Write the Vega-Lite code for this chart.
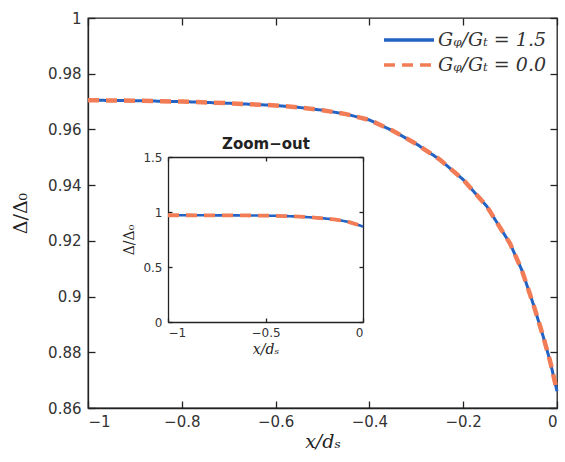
{
  "$schema": "https://vega.github.io/schema/vega-lite/v6.json",
  "width": 469,
  "height": 390,
  "autosize": {"type": "none"},
  "padding": {"left": 88, "top": 18, "right": 8, "bottom": 54},
  "background": "white",
  "datasets": {
    "curve": [
      {"s": "Gᵩ/Gₜ = 1.5", "x": -1.0, "y": 0.9705},
      {"s": "Gᵩ/Gₜ = 1.5", "x": -0.9, "y": 0.9703},
      {"s": "Gᵩ/Gₜ = 1.5", "x": -0.8, "y": 0.9700},
      {"s": "Gᵩ/Gₜ = 1.5", "x": -0.7, "y": 0.9694},
      {"s": "Gᵩ/Gₜ = 1.5", "x": -0.6, "y": 0.9686},
      {"s": "Gᵩ/Gₜ = 1.5", "x": -0.55, "y": 0.9679},
      {"s": "Gᵩ/Gₜ = 1.5", "x": -0.5, "y": 0.9669},
      {"s": "Gᵩ/Gₜ = 1.5", "x": -0.45, "y": 0.9655},
      {"s": "Gᵩ/Gₜ = 1.5", "x": -0.4, "y": 0.9634},
      {"s": "Gᵩ/Gₜ = 1.5", "x": -0.35, "y": 0.9595},
      {"s": "Gᵩ/Gₜ = 1.5", "x": -0.3, "y": 0.9548},
      {"s": "Gᵩ/Gₜ = 1.5", "x": -0.25, "y": 0.9492},
      {"s": "Gᵩ/Gₜ = 1.5", "x": -0.2, "y": 0.9420},
      {"s": "Gᵩ/Gₜ = 1.5", "x": -0.15, "y": 0.9325},
      {"s": "Gᵩ/Gₜ = 1.5", "x": -0.1, "y": 0.9190},
      {"s": "Gᵩ/Gₜ = 1.5", "x": -0.075, "y": 0.9095},
      {"s": "Gᵩ/Gₜ = 1.5", "x": -0.05, "y": 0.8970},
      {"s": "Gᵩ/Gₜ = 1.5", "x": -0.03, "y": 0.8860},
      {"s": "Gᵩ/Gₜ = 1.5", "x": -0.015, "y": 0.8770},
      {"s": "Gᵩ/Gₜ = 1.5", "x": 0.0, "y": 0.8660},
      {"s": "Gᵩ/Gₜ = 0.0", "x": -1.0, "y": 0.9705},
      {"s": "Gᵩ/Gₜ = 0.0", "x": -0.9, "y": 0.9703},
      {"s": "Gᵩ/Gₜ = 0.0", "x": -0.8, "y": 0.9700},
      {"s": "Gᵩ/Gₜ = 0.0", "x": -0.7, "y": 0.9694},
      {"s": "Gᵩ/Gₜ = 0.0", "x": -0.6, "y": 0.9686},
      {"s": "Gᵩ/Gₜ = 0.0", "x": -0.55, "y": 0.9679},
      {"s": "Gᵩ/Gₜ = 0.0", "x": -0.5, "y": 0.9669},
      {"s": "Gᵩ/Gₜ = 0.0", "x": -0.45, "y": 0.9655},
      {"s": "Gᵩ/Gₜ = 0.0", "x": -0.4, "y": 0.9634},
      {"s": "Gᵩ/Gₜ = 0.0", "x": -0.35, "y": 0.9595},
      {"s": "Gᵩ/Gₜ = 0.0", "x": -0.3, "y": 0.9548},
      {"s": "Gᵩ/Gₜ = 0.0", "x": -0.25, "y": 0.9492},
      {"s": "Gᵩ/Gₜ = 0.0", "x": -0.2, "y": 0.9420},
      {"s": "Gᵩ/Gₜ = 0.0", "x": -0.15, "y": 0.9325},
      {"s": "Gᵩ/Gₜ = 0.0", "x": -0.1, "y": 0.9190},
      {"s": "Gᵩ/Gₜ = 0.0", "x": -0.075, "y": 0.9095},
      {"s": "Gᵩ/Gₜ = 0.0", "x": -0.05, "y": 0.8970},
      {"s": "Gᵩ/Gₜ = 0.0", "x": -0.03, "y": 0.8860},
      {"s": "Gᵩ/Gₜ = 0.0", "x": -0.015, "y": 0.8770},
      {"s": "Gᵩ/Gₜ = 0.0", "x": 0.0, "y": 0.8660}
    ]
  },
  "config": {
    "view": {"stroke": "#222", "strokeWidth": 1.3},
    "axis": {
      "grid": false,
      "domainColor": "#222",
      "domainWidth": 1.3,
      "tickColor": "#222",
      "tickSize": 7,
      "tickWidth": 1.3,
      "labelFont": "DejaVu Sans",
      "labelFontSize": 15,
      "labelColor": "#333",
      "titleFont": "DejaVu Serif",
      "titleFontWeight": "normal",
      "titleColor": "#222"
    },
    "legend": {
      "orient": "top-right",
      "offset": 10,
      "fillColor": "white",
      "padding": 0,
      "symbolType": "M-1,0H4",
      "symbolSize": 400,
      "symbolStrokeWidth": 3.5,
      "labelFont": "DejaVu Serif",
      "labelFontStyle": "italic",
      "labelFontSize": 19,
      "labelColor": "#333",
      "rowPadding": 3,
      "labelOffset": 32
    }
  },
  "layer": [
    {
      "data": {"name": "curve"},
      "transform": [{"filter": "datum.s == 'Gᵩ/Gₜ = 1.5'"}],
      "mark": {"type": "line", "strokeWidth": 3},
      "encoding": {
        "x": {"field": "x", "type": "quantitative", "scale": {"domain": [-1, 0], "nice": false},
          "axis": {"orient": "bottom", "ticks": false, "values": [-1, -0.8, -0.6, -0.4, -0.2, 0], "format": ".1~f", "labelPadding": 6, "title": "x/dₛ", "titleFontStyle": "italic", "titleFontSize": 19, "titlePadding": 3}},
        "y": {"field": "y", "type": "quantitative", "scale": {"domain": [0.86, 1], "nice": false, "zero": false},
          "axis": {"orient": "left", "ticks": false, "values": [0.86, 0.88, 0.9, 0.92, 0.94, 0.96, 0.98, 1], "format": ".2~f", "labelPadding": 7, "title": "Δ/Δ₀", "titleFontSize": 19, "titlePadding": 17}},
        "color": {"field": "s", "type": "nominal", "scale": {"domain": ["Gᵩ/Gₜ = 1.5", "Gᵩ/Gₜ = 0.0"], "range": ["#2463c4", "#f27c55"]}, "legend": {"title": null}},
        "strokeDash": {"field": "s", "type": "nominal", "scale": {"domain": ["Gᵩ/Gₜ = 1.5", "Gᵩ/Gₜ = 0.0"], "range": [[1, 0], [11, 7]]}, "legend": {"title": null}}
      }
    },
    {
      "data": {"name": "curve"},
      "transform": [{"filter": "datum.s == 'Gᵩ/Gₜ = 0.0'"}],
      "mark": {"type": "line", "strokeWidth": 4.5},
      "encoding": {
        "x": {"field": "x", "type": "quantitative", "scale": {"domain": [-1, 0], "nice": false}, "axis": null},
        "y": {"field": "y", "type": "quantitative", "scale": {"domain": [0.86, 1], "nice": false, "zero": false}, "axis": null},
        "color": {"field": "s", "type": "nominal", "scale": {"domain": ["Gᵩ/Gₜ = 1.5", "Gᵩ/Gₜ = 0.0"], "range": ["#2463c4", "#f27c55"]}, "legend": {"title": null}},
        "strokeDash": {"field": "s", "type": "nominal", "scale": {"domain": ["Gᵩ/Gₜ = 1.5", "Gᵩ/Gₜ = 0.0"], "range": [[1, 0], [11, 7]]}, "legend": {"title": null}}
      }
    },
    {
      "data": {"name": "curve"},
      "transform": [{"filter": "datum.s == 'Gᵩ/Gₜ = 0.0'"}],
      "mark": {"type": "line", "opacity": 0},
      "encoding": {
        "x": {"field": "x", "type": "quantitative", "scale": {"domain": [-1, 0], "nice": false},
          "axis": {"orient": "top", "offset": -390, "domain": false, "values": [-1, -0.8, -0.6, -0.4, -0.2, 0], "labels": false, "title": null}},
        "y": {"field": "y", "type": "quantitative", "scale": {"domain": [0.86, 1], "nice": false, "zero": false},
          "axis": {"orient": "right", "offset": -469, "domain": false, "values": [0.86, 0.88, 0.9, 0.92, 0.94, 0.96, 0.98, 1], "labels": false, "title": null}}
      }
    },
    {
      "data": {"name": "curve"},
      "transform": [{"filter": "datum.s == 'Gᵩ/Gₜ = 0.0'"}],
      "mark": {"type": "line", "opacity": 0},
      "encoding": {
        "x": {"field": "x", "type": "quantitative", "scale": {"domain": [-1, 0], "nice": false},
          "axis": {"orient": "bottom", "offset": -390, "domain": false, "values": [-1, -0.8, -0.6, -0.4, -0.2, 0], "labels": false, "title": null}},
        "y": {"field": "y", "type": "quantitative", "scale": {"domain": [0.86, 1], "nice": false, "zero": false},
          "axis": {"orient": "left", "offset": -469, "domain": false, "values": [0.86, 0.88, 0.9, 0.92, 0.94, 0.96, 0.98, 1], "labels": false, "title": null}}
      }
    },
    {
      "data": {"name": "curve"},
      "transform": [{"filter": "datum.s == 'Gᵩ/Gₜ = 1.5'"}],
      "mark": {"type": "line", "strokeWidth": 2.6},
      "encoding": {
        "x": {"field": "x", "type": "quantitative", "scale": {"domain": [-1, 0], "nice": false, "range": [80, 275]},
          "axis": {"orient": "bottom", "offset": -86, "ticks": false, "values": [-1, -0.5, 0], "format": ".1~f", "labelFontSize": 12, "labelPadding": 5, "title": "x/dₛ", "titleFontStyle": "italic", "titleFontSize": 14, "titlePadding": 4}},
        "y": {"field": "y", "type": "quantitative", "scale": {"domain": [0, 1.5], "nice": false, "zero": false, "range": [304, 139]},
          "axis": {"orient": "left", "offset": -80, "ticks": false, "values": [0, 0.5, 1, 1.5], "format": ".1~f", "labelFontSize": 12, "labelPadding": 6, "title": "Δ/Δ₀", "titleFontSize": 14, "titlePadding": 6}},
        "color": {"field": "s", "type": "nominal", "scale": {"domain": ["Gᵩ/Gₜ = 1.5", "Gᵩ/Gₜ = 0.0"], "range": ["#2463c4", "#f27c55"]}, "legend": {"title": null}},
        "strokeDash": {"field": "s", "type": "nominal", "scale": {"domain": ["Gᵩ/Gₜ = 1.5", "Gᵩ/Gₜ = 0.0"], "range": [[1, 0], [11, 7]]}, "legend": {"title": null}}
      }
    },
    {
      "data": {"name": "curve"},
      "transform": [{"filter": "datum.s == 'Gᵩ/Gₜ = 0.0'"}],
      "mark": {"type": "line", "strokeWidth": 3.8},
      "encoding": {
        "x": {"field": "x", "type": "quantitative", "scale": {"domain": [-1, 0], "nice": false, "range": [80, 275]}, "axis": null},
        "y": {"field": "y", "type": "quantitative", "scale": {"domain": [0, 1.5], "nice": false, "zero": false, "range": [304, 139]}, "axis": null},
        "color": {"field": "s", "type": "nominal", "scale": {"domain": ["Gᵩ/Gₜ = 1.5", "Gᵩ/Gₜ = 0.0"], "range": ["#2463c4", "#f27c55"]}, "legend": {"title": null}},
        "strokeDash": {"field": "s", "type": "nominal", "scale": {"domain": ["Gᵩ/Gₜ = 1.5", "Gᵩ/Gₜ = 0.0"], "range": [[1, 0], [11, 7]]}, "legend": {"title": null}}
      }
    },
    {
      "data": {"name": "curve"},
      "transform": [{"filter": "datum.s == 'Gᵩ/Gₜ = 0.0'"}],
      "mark": {"type": "line", "opacity": 0},
      "encoding": {
        "x": {"field": "x", "type": "quantitative", "scale": {"domain": [-1, 0], "nice": false, "range": [80, 275]},
          "axis": {"orient": "top", "offset": -139, "ticks": false, "values": [-1, -0.5, 0], "labels": false, "title": "Zoom−out", "titleFont": "DejaVu Sans", "titleFontWeight": "bold", "titleFontSize": 15, "titlePadding": 6}},
        "y": {"field": "y", "type": "quantitative", "scale": {"domain": [0, 1.5], "nice": false, "zero": false, "range": [304, 139]},
          "axis": {"orient": "right", "offset": -194, "ticks": false, "values": [0, 0.5, 1, 1.5], "labels": false, "title": null}}
      }
    },
    {
      "data": {"name": "curve"},
      "transform": [{"filter": "datum.s == 'Gᵩ/Gₜ = 0.0'"}],
      "mark": {"type": "line", "opacity": 0},
      "encoding": {
        "x": {"field": "x", "type": "quantitative", "scale": {"domain": [-1, 0], "nice": false, "range": [80, 275]},
          "axis": {"orient": "top", "offset": -304, "domain": false, "tickSize": 4, "values": [-1, -0.5, 0], "labels": false, "title": null}},
        "y": {"field": "y", "type": "quantitative", "scale": {"domain": [0, 1.5], "nice": false, "zero": false, "range": [304, 139]},
          "axis": {"orient": "right", "offset": -389, "domain": false, "tickSize": 4, "values": [0, 0.5, 1, 1.5], "labels": false, "title": null}}
      }
    },
    {
      "data": {"name": "curve"},
      "transform": [{"filter": "datum.s == 'Gᵩ/Gₜ = 0.0'"}],
      "mark": {"type": "line", "opacity": 0},
      "encoding": {
        "x": {"field": "x", "type": "quantitative", "scale": {"domain": [-1, 0], "nice": false, "range": [80, 275]},
          "axis": {"orient": "bottom", "offset": -251, "domain": false, "tickSize": 4, "values": [-1, -0.5, 0], "labels": false, "title": null}},
        "y": {"field": "y", "type": "quantitative", "scale": {"domain": [0, 1.5], "nice": false, "zero": false, "range": [304, 139]},
          "axis": {"orient": "left", "offset": -275, "domain": false, "tickSize": 4, "values": [0, 0.5, 1, 1.5], "labels": false, "title": null}}
      }
    }
  ],
  "resolve": {
    "scale": {"x": "independent", "y": "independent"},
    "axis": {"x": "independent", "y": "independent"}
  }
}
